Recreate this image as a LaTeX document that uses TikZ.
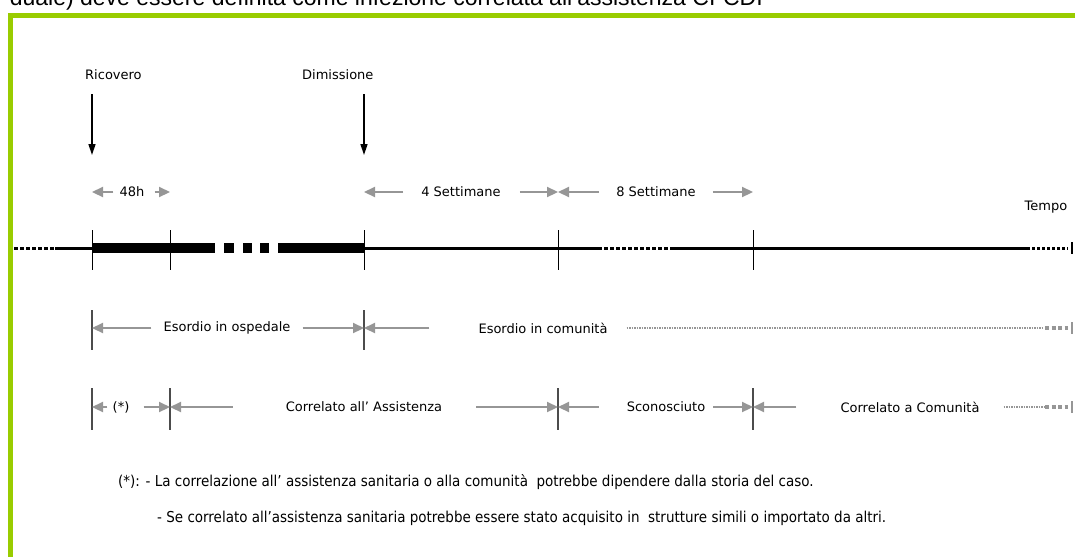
\documentclass[tikz,border=0pt]{standalone}
\usepackage{fontspec}
\setmainfont{DejaVu Sans}
\newfontfamily\condfont{DejaVu Sans Condensed}
\newfontfamily\docfont{Liberation Sans}
\usetikzlibrary{arrows.meta}
\definecolor{framegreen}{RGB}{153,204,0}
\definecolor{arrowgray}{RGB}{150,150,150}

\begin{document}
\begin{tikzpicture}[x=1pt,y=-1pt,
	lbl/.style={inner sep=0pt, font=\fontsize{13}{15}\selectfont},
	note/.style={inner sep=0pt, anchor=west, font=\condfont\fontsize{15}{17}\selectfont},
	garrow/.style={draw=arrowgray, line width=2.2pt, -{Triangle[length=11pt,width=10pt]}},
	barrow/.style={draw=black, line width=1.5pt, -{Triangle[length=11pt,width=7pt]}},
	tickmark/.style={draw=black, line width=1pt},
	gtick/.style={draw=black!70, line width=1.2pt},
	gend/.style={draw=arrowgray, line width=2.5pt},
	bar/.style={line width=10pt},
	axis/.style={line width=3pt},
	dots/.style={line width=3pt, dash pattern=on 4pt off 2pt},
	gdots/.style={draw=arrowgray, line width=1.5pt, dash pattern=on 1.5pt off 1pt},
	gdash/.style={draw=arrowgray, line width=3.5pt, dash pattern=on 4pt off 2.5pt}]
	\useasboundingbox (0,0) rectangle (1075,557);
	\clip (0,0) rectangle (1075,557);

	% page text and green frame
	\node (doc) [inner sep=0pt, anchor=base east, font=\docfont\fontsize{23}{26}\selectfont] at (763,5) {duale) deve essere definita come infezione correlata all’assistenza CI-CDI};
	\fill[framegreen] (8,13) rectangle (1075,18);
	\fill[framegreen] (8,13) rectangle (13,557);

	% time points on the axis
	\foreach \x/\n in {92/t0,170/t1,364/t2,558/t3,753/t4}
		\coordinate (\n) at (\x,248);

	\node (ric) [lbl, anchor=west] at (85,75) {Ricovero};
	\node (dim) [lbl, anchor=west] at (302,75) {Dimissione};
	\draw[barrow, shorten <=14pt] (ric.south -| t0) -- (t0 |- 0,155);
	\draw[barrow, shorten <=14pt] (dim.south -| t2) -- (t2 |- 0,155);

	\node (h48) [lbl] at (132,192) {48h};
	\draw[garrow] ([xshift=-6pt]h48.west) -- (h48.west -| t0);
	\draw[garrow] ([xshift=10pt]h48.east) -- (h48.east -| t1);
	\node (s4) [lbl] at (461,192) {4 Settimane};
	\draw[garrow] ([xshift=-18pt]s4.west) -- (s4.west -| t2);
	\draw[garrow] ([xshift=19pt]s4.east) -- (s4.east -| t3);
	\node (s8) [lbl] at (656,192) {8 Settimane};
	\draw[garrow] ([xshift=-17pt]s8.west) -- (s8.west -| t3);
	\draw[garrow] ([xshift=17pt]s8.east) -- (s8.east -| t4);
	\node (tempo) [lbl] at (1046,207) {Tempo};

	% axis
	\draw[dots] (14,248) -- (70,248);
	\draw[axis] (55,248) -- (t0);
	\draw[bar] (t0) -- (215,248);
	\foreach \a/\b in {224/234,243/252,260/269}
		\draw[bar] (\a,248) -- (\b,248);
	\draw[bar] (278,248) -- (t2);
	\draw[axis] (t2) -- (598,248);
	\draw[dots] (598,248) -- (674,248);
	\draw[axis] (674,248) -- (1027,248);
	\draw[dots, dash pattern=on 3pt off 2pt] (1027,248) -- (1068,248);
	\draw[line width=2pt] (1072,242) -- (1072,254);
	\foreach \n in {t0,t1,t2,t3,t4}
		\draw[tickmark] ([yshift=18pt]\n) -- ([yshift=-22pt]\n);

	% onset
	\coordinate (end1) at (1072,328);
	\foreach \n in {t0,t2}
		\draw[gtick] (\n |- 0,310) -- (\n |- 0,350);
	\node (osp) [lbl] at (227,328) {Esordio in ospedale};
	\draw[garrow] ([xshift=-12pt]osp.west) -- (osp.west -| t0);
	\draw[garrow] ([xshift=12pt]osp.east) -- (osp.east -| t2);
	\node (com) [lbl] at (543,328) {Esordio in comunità};
	\draw[garrow] ([xshift=-49pt]com.west) -- (com.west -| t2);
	\draw[gdots, shorten >=28pt] ([xshift=19pt]com.east) -- (end1);
	\draw[gdash] ([xshift=-27pt]end1) -- ([xshift=-4pt]end1);
	\draw[gend] ([yshift=6pt]end1) -- ([yshift=-6pt]end1);

	% correlation
	\coordinate (end2) at (1072,407);
	\foreach \n in {t0,t1,t3,t4}
		\draw[gtick] (\n |- 0,388) -- (\n |- 0,430);
	\node (ast) [lbl] at (121,407) {(*)};
	\draw[garrow] ([xshift=-5pt]ast.west) -- (ast.west -| t0);
	\draw[garrow] ([xshift=14pt]ast.east) -- (ast.east -| t1);
	\node (cas) [lbl] at (364,407) {Correlato all’ Assistenza};
	\draw[garrow] ([xshift=-53pt]cas.west) -- (cas.west -| t1);
	\draw[garrow] ([xshift=34pt]cas.east) -- (cas.east -| t3);
	\node (sco) [lbl] at (666,407) {Sconosciuto};
	\draw[garrow] ([xshift=-28pt]sco.west) -- (sco.west -| t3);
	\draw[garrow] ([xshift=8pt]sco.east) -- (sco.east -| t4);
	\node (ccm) [lbl] at (910,407) {Correlato a Comunità};
	\draw[garrow] ([xshift=-44pt]ccm.west) -- (ccm.west -| t4);
	\draw[gdots, shorten >=28pt] ([xshift=24pt]ccm.east) -- (end2);
	\draw[gdash] ([xshift=-27pt]end2) -- ([xshift=-4pt]end2);
	\draw[gend] ([yshift=6pt]end2) -- ([yshift=-6pt]end2);

	% footnote
	\node (n1) [note] at (118,482) {(*): - La correlazione all’ assistenza sanitaria o alla comunità\ \ potrebbe dipendere dalla storia del caso.};
	\node (n2) [note] at (157,518) {- Se correlato all’assistenza sanitaria potrebbe essere stato acquisito in\ \ strutture simili o importato da altri.};
\end{tikzpicture}
\end{document}
